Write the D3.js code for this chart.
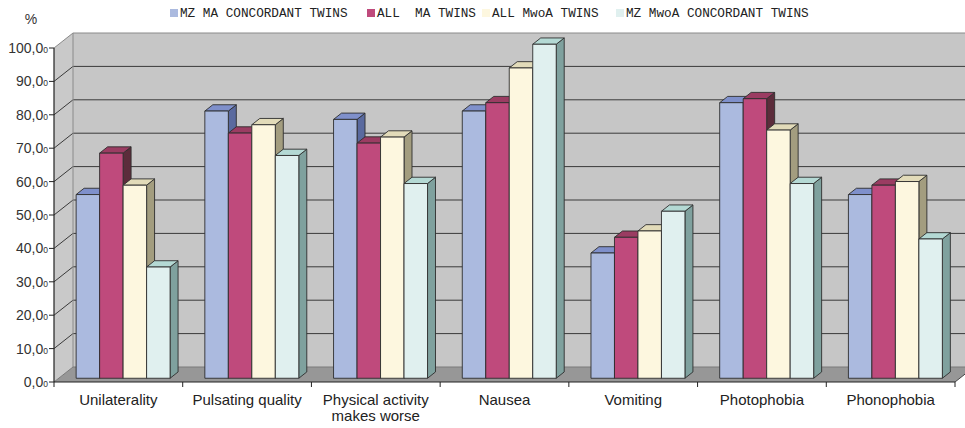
<!DOCTYPE html>
<html>
<head>
<meta charset="utf-8">
<script src="https://cdn.jsdelivr.net/npm/d3@7"></script>
<style>
  html, body { margin: 0; padding: 0; background: #fff; }
  svg { display: block; }
</style>
</head>
<body>
<svg id="chart" width="965" height="428"></svg>
<script>
// Symptom categories (x axis)
const categories = ["Unilaterality", "Pulsating quality", "Physical activity makes worse",
  "Nausea", "Vomiting", "Photophobia", "Phonophobia"];
const categoryLines = [["Unilaterality"], ["Pulsating quality"], ["Physical activity", "makes worse"],
  ["Nausea"], ["Vomiting"], ["Photophobia"], ["Phonophobia"]];

// Series names (legend)
const seriesNames = ["MZ MA CONCORDANT TWINS", "ALL  MA TWINS", "ALL MwoA TWINS", "MZ MwoA CONCORDANT TWINS"];

// Percentages per series
const mzMaConcordant = [55.0, 80.0, 77.5, 80.0, 37.5, 82.5, 55.0];
const allMa          = [67.4, 73.4, 70.4, 82.5, 42.2, 83.7, 57.8];
const allMwoa        = [57.8, 75.9, 72.2, 92.9, 44.1, 74.3, 58.9];
const mzMwoaConcordant = [33.3, 66.7, 58.3, 100.0, 50.0, 58.3, 41.7];
const seriesValues = [mzMaConcordant, allMa, allMwoa, mzMwoaConcordant];

// Y axis ticks
const yTicks = [0, 10, 20, 30, 40, 50, 60, 70, 80, 90, 100];

// Face colours per series: front, top, side
const colors = [
  { front: "#abbadf", top: "#7f90cb", side: "#5a6a9f" },
  { front: "#bf4a7c", top: "#9b3c62", side: "#5c2c3b" },
  { front: "#fdf7df", top: "#e2dbb9", side: "#a39d7f" },
  { front: "#e0f0ef", top: "#b4d9d4", side: "#7fa19e" }
];

const svg = d3.select("#chart");

// Front plane of the 3D box
const left = 54, right = 955;
const y = d3.scaleLinear().domain([0, 100]).range([382, 48]);
// Depth direction offset (full depth of the floor)
const DX = 19, DY = -15;
const F0 = 0.25, F1 = 0.67; // bar front / back depth fractions

const x0 = d3.scaleBand().domain(categories).range([left, right])
  .paddingInner(0.27).paddingOuter(0.135);
const x1 = d3.scaleBand().domain(d3.range(seriesNames.length)).range([0, x0.bandwidth()]);

const P = (xf, v, f) => [xf + DX * f, y(v) + DY * f];
const poly = pts => pts.map(p => p.join(",")).join(" ");

// Walls and floor
const g = svg.append("g");
// back wall
g.append("polygon")
  .attr("points", poly([P(left, 0, 1), P(right + 40, 0, 1), P(right + 40, 100, 1), P(left, 100, 1)]))
  .attr("fill", "#c6c6c6");
// side wall
g.append("polygon")
  .attr("points", poly([P(left, 0, 0), P(left, 0, 1), P(left, 100, 1), P(left, 100, 0)]))
  .attr("fill", "#c9c9c9");
// floor
g.append("polygon")
  .attr("points", poly([P(left, 0, 0), P(right, 0, 0), P(right, 0, 1), P(left, 0, 1)]))
  .attr("fill", "#979797");

// Gridlines on back wall and side wall
yTicks.forEach(t => {
  if (t === 0) return;
  const a = P(left, t, 0), b = P(left, t, 1), c = P(right + 40, t, 1);
  g.append("polyline").attr("points", poly([a, b, c]))
    .attr("fill", "none").attr("stroke", t === 100 ? "#8a8a8a" : "#3a3a3a").attr("stroke-width", 1);
});
// Back-wall corner edge
g.append("line")
  .attr("x1", P(left, 0, 1)[0]).attr("y1", P(left, 0, 1)[1])
  .attr("x2", P(left, 100, 1)[0]).attr("y2", P(left, 100, 1)[1])
  .attr("stroke", "#8a8a8a").attr("stroke-width", 1);
// floor edges
g.append("polyline")
  .attr("points", poly([P(left, 0, 0), P(left, 0, 1), P(right + 40, 0, 1)]))
  .attr("fill", "none").attr("stroke", "#7a7a7a").attr("stroke-width", 1);
g.append("line")
  .attr("x1", P(right, 0, 0)[0]).attr("y1", P(right, 0, 0)[1])
  .attr("x2", P(right, 0, 1)[0]).attr("y2", P(right, 0, 1)[1])
  .attr("stroke", "#444").attr("stroke-width", 1);

// Bars, drawn left to right so the next bar hides the previous side face
const bars = svg.append("g");
categories.forEach((cat, ci) => {
  seriesValues.forEach((vals, si) => {
    const v = vals[ci];
    const xa = x0(cat) + x1(si), xb = xa + x1.bandwidth();
    const c = colors[si];
    const stroke = "#2e2e2e", sw = 0.9;
    // side face
    bars.append("polygon")
      .attr("points", poly([P(xb, 0, F0), P(xb, 0, F1), P(xb, v, F1), P(xb, v, F0)]))
      .attr("fill", c.side).attr("stroke", stroke).attr("stroke-width", sw).attr("stroke-linejoin", "round");
    // top face
    bars.append("polygon")
      .attr("points", poly([P(xa, v, F0), P(xb, v, F0), P(xb, v, F1), P(xa, v, F1)]))
      .attr("fill", c.top).attr("stroke", stroke).attr("stroke-width", sw).attr("stroke-linejoin", "round");
    // front face
    bars.append("polygon")
      .attr("points", poly([P(xa, 0, F0), P(xb, 0, F0), P(xb, v, F0), P(xa, v, F0)]))
      .attr("fill", c.front).attr("stroke", stroke).attr("stroke-width", sw).attr("stroke-linejoin", "round");
  });
});

// Axes
const axes = svg.append("g");
axes.append("line").attr("x1", left).attr("x2", left).attr("y1", y(0)).attr("y2", y(100))
  .attr("stroke", "#222").attr("stroke-width", 1.2);
axes.append("line").attr("x1", left).attr("x2", right).attr("y1", y(0)).attr("y2", y(0))
  .attr("stroke", "#222").attr("stroke-width", 1.2);

// Y ticks and labels
yTicks.forEach(t => {
  axes.append("line").attr("x1", left - 5).attr("x2", left).attr("y1", y(t)).attr("y2", y(t))
    .attr("stroke", "#222");
  const txt = axes.append("text")
    .attr("x", left - 6).attr("y", y(t) + 5)
    .attr("text-anchor", "end")
    .attr("font-family", "'Liberation Sans', Arial, sans-serif")
    .attr("font-size", 14).attr("fill", "#333");
  txt.append("tspan").text(d3.format(".1f")(t).replace(".", ","));
  txt.append("tspan").attr("font-size", 8.5).text("0");
});
axes.append("text").attr("x", 31).attr("y", 24).attr("text-anchor", "middle")
  .attr("font-family", "'Liberation Sans', Arial, sans-serif")
  .attr("font-size", 14).attr("fill", "#333").text("%");

// X ticks at category boundaries
d3.range(categories.length + 1).forEach(i => {
  const xx = left + i * (right - left) / categories.length;
  axes.append("line").attr("x1", xx).attr("x2", xx).attr("y1", y(0)).attr("y2", y(0) + 5)
    .attr("stroke", "#222");
});

// X labels
categories.forEach((cat, ci) => {
  const cx = left + (ci + 0.5) * (right - left) / categories.length;
  const t = axes.append("text")
    .attr("x", cx).attr("y", 405)
    .attr("text-anchor", "middle")
    .attr("font-family", "'Liberation Sans', Arial, sans-serif")
    .attr("font-size", 15).attr("fill", "#222");
  categoryLines[ci].forEach((line, li) => {
    t.append("tspan").attr("x", cx).attr("dy", li === 0 ? 0 : 16).text(line);
  });
});

// Legend
const legendX = [170, 367, 482, 616];
const legend = svg.append("g");
seriesNames.forEach((name, si) => {
  legend.append("rect").attr("x", legendX[si]).attr("y", 9).attr("width", 8).attr("height", 8)
    .attr("fill", colors[si].front);
  legend.append("text").attr("x", legendX[si] + 10).attr("y", 17)
    .attr("font-family", "'Liberation Mono', 'Courier New', monospace")
    .attr("font-size", 12.7).attr("fill", "#222")
    .attr("xml:space", "preserve").style("white-space", "pre")
    .text(name);
});
</script>
</body>
</html>
